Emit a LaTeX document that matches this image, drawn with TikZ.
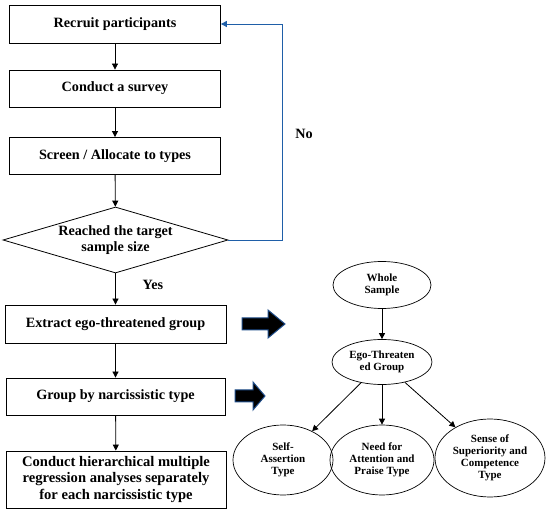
\documentclass[tikz,border=0pt]{standalone}
\usepackage{fontspec}
\setmainfont{Liberation Serif}
\usetikzlibrary{shapes.geometric,arrows.meta,calc}
\definecolor{loopblue}{HTML}{1F5FA8}
\definecolor{arrowedge}{HTML}{1F4E8C}
\tikzset{
  every node/.style={font=\bfseries},
  stepbox/.style={draw, line width=0.8pt, inner sep=0pt, align=center, font=\fontsize{14.2}{16}\selectfont\bfseries},
  decision/.style={draw, diamond, aspect=3.4, line width=0.8pt, inner sep=0pt, minimum width=225pt, minimum height=66pt, align=center, font=\fontsize{14.2}{16}\selectfont\bfseries},
  oval/.style={draw, ellipse, line width=0.7pt, inner sep=0pt, align=center, font=\fontsize{11}{12}\selectfont\bfseries},
  flow/.style={-{Triangle[length=6pt,width=6pt]}, line width=0.8pt},
  loop/.style={-{Triangle[length=6pt,width=6pt]}, line width=0.9pt, draw=loopblue},
  fatarrow/.style={fill=black, draw=arrowedge, line width=1pt},
  lbl/.style={font=\fontsize{14.2}{16}\selectfont\bfseries},
}
\begin{document}
\begin{tikzpicture}[x=1pt,y=-1pt]
\useasboundingbox (0,0) rectangle (550,513);
% left flowchart
\node[stepbox, minimum width=211pt, minimum height=38pt] (b1) at (115,24) {Recruit participants};
\node[stepbox, minimum width=211pt, minimum height=37pt] (b2) at (115,88.5) {Conduct a survey};
\node[stepbox, minimum width=211pt, minimum height=37pt] (b3) at (115,156) {Screen / Allocate to types};
\node[decision] (d) at (115.5,240) {Reached the target\\sample size};
\node[stepbox, minimum width=221pt, minimum height=38pt] (b4) at (115.5,324) {Extract ego-threatened group};
\node[stepbox, minimum width=219pt, minimum height=37pt] (b5) at (115.5,396.5) {Group by narcissistic type};
\node[stepbox, minimum width=220pt, minimum height=57pt, font=\fontsize{14.6}{16.2}\selectfont\bfseries] (b6) at (116,479.5) {Conduct hierarchical multiple\\regression analyses separately\\for each narcissistic type};
\draw[flow] (b1) -- (b2);
\draw[flow] (b2) -- (b3);
\draw[flow] (b3) -- (d);
\draw[flow] (d) -- (b4);
\draw[flow] (b4) -- (b5);
\draw[flow] (b5) -- (b6);
\node[lbl] (yes) at (153,285) {Yes};
\coordinate (cr) at (282,240);
\draw[loop] (d.east) -- (cr) |- (b1.east);
\node[lbl] (no) at (304,134) {No};
% fat arrows
\draw[fatarrow] (242,318) -- (268,318) -- (268,310) -- (285,324) -- (268,338) -- (268,330) -- (242,330) -- cycle;
\draw[fatarrow] (235,390) -- (253,390) -- (253,382) -- (265,396) -- (253,410) -- (253,402) -- (235,402) -- cycle;
% right tree
\node[oval, minimum width=98pt, minimum height=47pt] (ws) at (382,285) {Whole\\Sample};
\node[oval, minimum width=100pt, minimum height=45pt] (eg) at (382,362) {Ego-Threaten\\ed Group};
\node[oval, minimum width=100pt, minimum height=70pt] (sa) at (283,460) {Self-\\Assertion\\Type};
\node[oval, minimum width=104pt, minimum height=70pt] (na) at (382,460) {Need for\\Attention and\\Praise Type};
\node[oval, minimum width=110pt, minimum height=78pt] (ss) at (490,458) {Sense of\\Superiority and\\Competence\\Type};
\draw[flow] (ws) -- (eg);
\draw[flow] (eg) -- (sa);
\draw[flow] (eg) -- (na);
\draw[flow] (eg) -- (ss);
\end{tikzpicture}
\end{document}
